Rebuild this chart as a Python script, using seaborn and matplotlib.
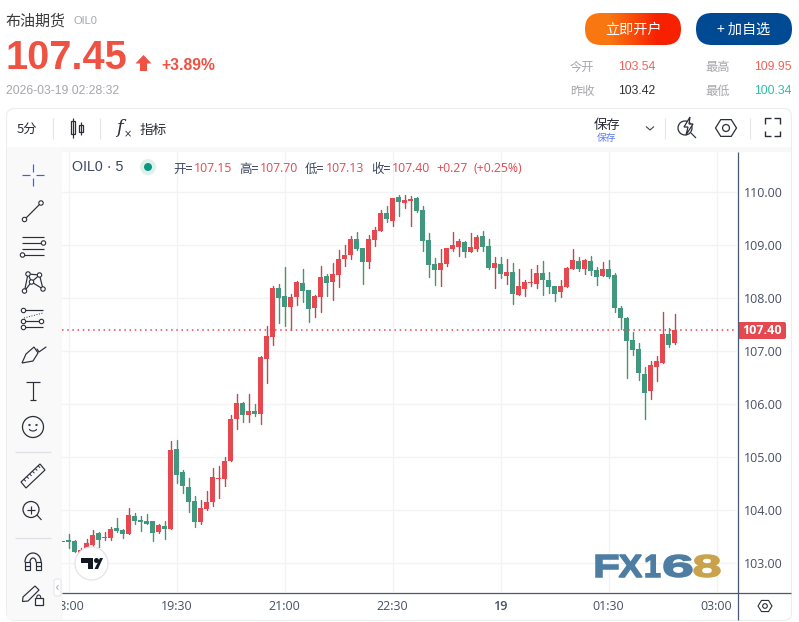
import numpy as np
import pandas as pd
import matplotlib
matplotlib.use('Agg')
import matplotlib.pyplot as plt
import seaborn as sns
from matplotlib.patches import Circle, FancyBboxPatch, PathPatch, Polygon, Rectangle
from matplotlib.textpath import TextPath
from matplotlib.font_manager import FontProperties
from matplotlib.transforms import Affine2D, Bbox

# 5 minute candles, the first one sits just before 18:00
opens = [103.40,103.44,103.42,103.12,103.22,103.34,103.57,103.47,103.47,103.66,103.62,103.55,103.89,103.81,103.79,103.79,103.59,103.70,103.64,105.15,104.72,104.44,104.17,103.78,104.02,104.15,104.59,104.59,104.93,105.72,106.02,105.80,105.87,105.82,106.85,107.27,108.19,108.04,107.84,108.02,108.29,108.16,107.82,108.02,108.42,108.31,108.44,108.74,108.82,109.12,108.95,108.69,109.10,109.27,109.61,109.46,109.91,109.80,109.84,109.89,109.67,109.10,108.65,108.53,108.65,108.93,108.97,109.06,108.87,108.93,109.18,108.99,108.57,108.65,108.42,108.50,108.06,108.18,108.29,108.27,108.48,108.35,108.23,108.12,108.21,108.55,108.70,108.55,108.70,108.53,108.42,108.55,108.44,107.82,107.63,107.21,107.04,106.57,106.25,106.70,106.78,107.33,107.15]
highs = [103.41,103.56,103.44,103.28,103.45,103.62,103.59,103.59,103.68,103.85,103.64,104.04,103.95,103.89,103.93,103.79,103.74,103.79,105.30,105.32,104.76,104.61,104.27,104.19,104.36,104.79,104.83,105.00,105.80,106.19,106.04,106.19,106.00,106.91,107.48,108.23,108.27,108.59,108.08,108.33,108.55,108.16,108.06,108.61,108.46,108.67,108.91,109.01,109.17,109.25,108.95,109.19,109.35,109.67,109.74,109.89,109.95,109.95,109.93,109.91,109.74,109.23,108.76,108.93,108.95,109.25,109.12,109.08,109.23,109.19,109.27,109.12,108.78,108.78,108.74,108.67,108.55,108.35,108.55,108.63,108.70,108.50,108.23,108.35,108.59,108.93,108.78,108.74,108.80,108.59,108.68,108.72,108.48,107.85,107.65,107.36,107.16,106.70,106.82,106.91,107.74,107.44,107.70]
lows = [103.40,103.28,103.21,103.09,103.18,103.32,103.31,103.44,103.44,103.59,103.47,103.55,103.74,103.61,103.74,103.42,103.57,103.45,103.64,104.51,104.32,103.96,103.68,103.74,104.00,104.08,104.23,104.45,104.93,105.53,105.67,105.67,105.78,105.63,106.40,107.12,107.53,107.48,107.40,107.87,107.93,107.55,107.65,107.74,108.04,107.97,108.21,108.61,108.74,108.91,108.27,108.57,108.99,109.27,109.44,109.36,109.55,109.70,109.36,109.63,108.89,108.40,108.25,108.23,108.61,108.89,108.80,108.78,108.87,108.89,108.89,108.55,108.19,108.38,108.27,107.89,108.06,108.04,108.23,108.19,108.06,108.10,107.95,108.02,108.21,108.55,108.52,108.46,108.44,108.25,108.42,108.38,107.74,107.42,106.50,106.93,106.46,105.72,106.10,106.44,106.78,107.08,107.13]
closes = [103.41,103.40,103.21,103.26,103.38,103.53,103.44,103.49,103.64,103.61,103.55,103.91,103.79,103.78,103.74,103.57,103.72,103.64,105.13,104.66,104.45,104.15,103.78,104.04,104.15,104.62,104.61,104.93,105.72,106.02,105.80,105.87,105.82,106.89,107.29,108.19,108.00,107.84,108.02,108.31,108.14,107.80,108.04,108.40,108.29,108.46,108.74,108.82,109.12,108.93,108.69,109.12,109.29,109.61,109.50,109.89,109.82,109.85,109.87,109.65,109.08,108.63,108.53,108.67,108.95,109.00,109.08,108.87,108.97,109.16,108.97,108.57,108.67,108.46,108.50,108.08,108.23,108.31,108.31,108.48,108.35,108.21,108.08,108.23,108.57,108.72,108.55,108.72,108.52,108.40,108.55,108.40,107.82,107.63,107.19,107.02,106.59,106.21,106.74,106.82,107.33,107.12,107.40]

time_ticks = [0, 18, 36, 54, 72, 90, 108]
time_labels = ['18:00', '19:30', '21:00', '22:30', '19', '01:30', '03:00']
price_ticks = [103, 104, 105, 106, 107, 108, 109, 110]
last_price = 107.40

RED = '#E5484F'
GREEN = '#41987F'
WICK_RED = '#BC4A52'
WICK_GREEN = '#4A9468'
AXIS = '#4A5873'
LABEL = '#454F66'
ICON = '#2A2E39'
CJK = ['Noto Sans CJK SC', 'Liberation Sans', 'DejaVu Sans']

sns.set_theme(style='white')
plt.rcParams['font.family'] = CJK

W, H = 799, 622
fig = plt.figure(figsize=(W / 100, H / 100), dpi=100, facecolor='white')

# page furniture sits behind the chart, px coordinates
bg = fig.add_axes([0, 0, 1, 1], zorder=0)
bg.set_xlim(0, W); bg.set_ylim(H, 0); bg.axis('off')
bg.add_patch(FancyBboxPatch((6.5, 108.5), 785, 512, boxstyle='round,pad=0,rounding_size=8',
                            fc='white', ec='#ECEDF0', lw=0.8))
bg.add_patch(Rectangle((7, 147), 784, 5, fc='#F8F8F9', ec='none'))
bg.add_patch(Rectangle((7, 147), 53.5, 473, fc='#F9F9FA', ec='none'))
bg.add_patch(Rectangle((60.5, 147), 2.5, 473, fc='#F8F8F9', ec='none'))

# chart
ax = fig.add_axes([62 / W, 1 - 592 / H, (737 - 62) / W, (592 - 152) / H], zorder=1)
ax.set_facecolor('white')

candles = pd.DataFrame({'n': np.arange(-1, 102), 'open': opens, 'high': highs,
                        'low': lows, 'close': closes})
candles['up'] = candles['close'] >= candles['open']
candles['bottom'] = candles[['open', 'close']].min(axis=1)
candles['body'] = (candles['open'] - candles['close']).abs().clip(lower=0.018)

wicks = candles.melt(id_vars=['n', 'up'], value_vars=['low', 'high'], value_name='price')
sns.lineplot(data=wicks, x='n', y='price', units='n', estimator=None, hue='up',
             palette={True: WICK_RED, False: WICK_GREEN}, lw=1.0, legend=False, ax=ax, zorder=3)

for up, colour in [(True, RED), (False, GREEN)]:
    part = candles[candles['up'] == up]
    sns.barplot(data=part, x='n', y='body', bottom=part['bottom'].values, native_scale=True,
                orient='x', color=colour, saturation=1, width=0.88, errorbar=None,
                linewidth=0, ax=ax, zorder=4)

ax.axhline(last_price, color='#E8434C', lw=1.1, ls=(0, (1, 2.4)), zorder=5)
# 6 px per candle, candle n centred on pixel 68.5 + 6n
ax.set_xlim((62 - 68.5) / 6, (737 - 68.5) / 6)
ax.set_ylim(105 - (592 - 457.3) / 53, 105 + (457.3 - 152) / 53)
ax.set_xlabel(''); ax.set_ylabel('')
ax.set_xticks(time_ticks, time_labels)
ax.set_yticks(price_ticks, [f'{p:.2f}' for p in price_ticks])
ax.yaxis.tick_right()
ax.grid(True, color='#F2F3F4', lw=1.0)
ax.set_axisbelow(True)
ax.tick_params(axis='x', length=0, pad=6, labelsize=9, labelcolor=LABEL)
ax.tick_params(axis='y', length=0, pad=4.7, labelsize=9, labelcolor=LABEL)
for lab in ax.get_xticklabels() + ax.get_yticklabels():
    lab.set_family('Open Sans')
ax.get_xticklabels()[4].set_fontweight('semibold')
# the first time label is cut by the left edge of the pane
ax.get_xticklabels()[0].set_clip_box(Bbox([[62, 0], [W, H]]))
ax.get_xticklabels()[0].set_clip_on(True)
for s in ax.spines.values():
    s.set_visible(False)

# everything else goes on top, px coordinates again
ui = fig.add_axes([0, 0, 1, 1], zorder=2)
ui.set_xlim(0, W); ui.set_ylim(H, 0); ui.axis('off'); ui.patch.set_alpha(0)


def seg(xs, ys, c=ICON, lw=0.85, **kw):
    ui.plot(xs, ys, color=c, lw=lw, solid_capstyle='butt', **kw)


def dot(x, y, r=2.2, ec=ICON, fc='white', lw=0.8):
    ui.add_patch(Circle((x, y), r, fc=fc, ec=ec, lw=lw, zorder=4))


def hexagon(x, y, r, lw=0.9):
    a = np.deg2rad([0, 60, 120, 180, 240, 300])
    ui.add_patch(Polygon(np.c_[x + r * np.cos(a), y + r * 0.92 * np.sin(a)], fc='none', ec=ICON, lw=lw))
    ui.add_patch(Circle((x, y), r * 0.33, fc='none', ec=ICON, lw=lw))


seg([737.5, 737.5], [152, 620], AXIS, 0.9)
seg([62, 791], [592.5, 592.5], AXIS, 0.9)

# header
ui.text(6, 21, '布油期货', fontsize=10.8, color='#3A3A3A', va='center')
ui.text(74, 20.5, 'OIL0', fontsize=8, color='#A2A7B3', va='center', family='Liberation Sans')
ui.text(6, 58, '107.45', fontsize=28.6, color='#EF5143', weight='bold', va='center', family='Liberation Sans')
ui.add_patch(Polygon([(143.5, 55), (151.5, 63.5), (147, 63.5), (147, 71), (140, 71), (140, 63.5), (135.5, 63.5)],
                     fc='#EF5143', ec='none'))
ui.text(161, 65, '+3.89%', fontsize=11.3, color='#EF5143', weight='bold', va='center', family='Liberation Sans')
ui.text(6, 91, '2026-03-19 02:28:32', fontsize=8.7, color='#A6A6AD', va='center', family='Liberation Sans')

# buttons
btn = FancyBboxPatch((585, 13), 96, 32, boxstyle='round,pad=0,rounding_size=16', fc='none', ec='none')
ui.add_patch(btn)
grad = np.array([[[0.98, 0.47, 0.07]], [[0.97, 0.13, 0.0]]]).transpose(1, 0, 2)
im = ui.imshow(grad, extent=(585, 681, 45, 13), aspect='auto', interpolation='bilinear')
im.set_clip_path(btn)
ui.set_xlim(0, W); ui.set_ylim(H, 0)
ui.text(633, 30, '立即开户', fontsize=10.2, color='white', ha='center', va='center')
ui.add_patch(FancyBboxPatch((696, 13), 96, 32, boxstyle='round,pad=0,rounding_size=16', fc='#004A94', ec='none'))
ui.text(744, 30, '+ 加自选', fontsize=10.2, color='white', ha='center', va='center')

# quote block
for x, y, s in [(570, 67, '今开'), (705, 67, '最高'), (570, 91, '昨收'), (705, 91, '最低')]:
    ui.text(x, y, s, fontsize=8.8, color='#A6A6AD', va='center')
for x, y, s, c in [(618.5, 67, '103.54', '#F0625A'), (754.5, 67, '109.95', '#F0625A'),
                   (618.5, 91, '103.42', '#333333'), (754.5, 91, '100.34', '#2DBFA8')]:
    ui.text(x, y, s, fontsize=8.8, color=c, va='center', family='Liberation Sans')

# top toolbar
ui.text(17, 129.5, '5分', fontsize=9.5, color='#2A2E39', va='center')
for x in [52.5, 99.5, 664.5, 749.5]:
    seg([x, x], [118, 139], '#E3E4E8', 0.8)
seg([72.5, 72.5], [118, 138]); ui.add_patch(Rectangle((70.5, 121), 4, 13, fc='white', ec=ICON, lw=0.9))
seg([80.5, 80.5], [122, 135]); ui.add_patch(Rectangle((78.5, 125), 4, 7, fc='white', ec=ICON, lw=0.9))
ui.text(116, 128, 'f', fontsize=13, color=ICON, style='italic', va='center', family='DejaVu Serif')
ui.text(124, 134, '×', fontsize=7, color=ICON, va='center', family='DejaVu Sans')
ui.text(140, 129.5, '指标', fontsize=9.8, color='#2A2E39', va='center')
ui.text(607, 124.5, '保存', fontsize=9.6, color='#2A2E39', ha='center', va='center')
ui.text(607, 138, '保存', fontsize=7, color='#5B7BF0', ha='center', va='center')
seg([646, 650, 654], [126.5, 130, 126.5], '#444444', 0.8)
ui.add_patch(Circle((685, 128), 7, fc='none', ec=ICON, lw=0.9))
ui.add_patch(Polygon([(690, 117), (684, 127), (688, 127), (686, 135), (693, 124), (689, 124)], fc='white', ec=ICON, lw=0.9, zorder=4))
seg([691, 696], [133, 138])
hexagon(726, 128, 10.5)
for xs, ys in [([765, 765, 771], [124, 118, 118]), ([774, 780, 780], [118, 118, 124]),
               ([765, 765, 771], [131, 136, 136]), ([774, 780, 780], [136, 136, 131])]:
    seg(xs, ys, ICON, 1.0)

# legend row of the chart
ui.text(72, 167, 'OIL0 · 5', fontsize=10.3, color='#3D4760', va='center', family='Liberation Sans')
ui.add_patch(Circle((148, 167), 8, fc='#DDF1EC', ec='none'))
ui.add_patch(Circle((148, 167), 4, fc='#089981', ec='none'))
for x, s in [(173, '开='), (239, '高='), (305, '低='), (371, '收=')]:
    ui.text(x, 169, s, fontsize=9, color='#3D4760', va='center')
for x, s in [(194, '107.15'), (260, '107.70'), (326, '107.13'), (392, '107.40'), (436, '+0.27'), (473, '(+0.25%)')]:
    ui.text(x, 168.5, s, fontsize=8.8, color=RED, va='center', family='Open Sans')

# last price tag
ui.add_patch(FancyBboxPatch((738, 322), 48, 17, boxstyle='round,pad=0,rounding_size=2', fc=RED, ec='none'))
ui.text(762, 330.5, f'{last_price:.2f}', fontsize=9, weight='bold', color='white', ha='center', va='center', family='Open Sans')

# left toolbar
seg([22, 30], [175, 175], '#2962FF'); seg([36, 44], [175, 175], '#2962FF')
seg([33, 33], [164, 172], '#2962FF'); seg([33, 33], [178, 186], '#2962FF')
seg([24.5, 41], [219.5, 203]); dot(24.5, 219.5); dot(41, 203)
for y in [237, 243, 249, 255]:
    seg([22, 44], [y, y])
dot(43.5, 243); dot(22.5, 255)
pts = [(24.5, 291), (28, 274), (31.5, 282), (39.5, 275), (43, 289)]
seg([p[0] for p in pts] + [31.5], [p[1] for p in pts] + [282])
seg([24.5, 31.5], [291, 282]); seg([28, 39.5], [274, 275])
for p in pts:
    dot(*p)
seg([24, 43], [310, 310]); seg([24, 43], [327, 327]); seg([24, 43], [321, 321])
seg([24, 43], [318, 313], ICON, 0.7, ls=':')
dot(23.5, 310.5); dot(23.5, 321.5); dot(23.5, 327.5); dot(41.5, 321.5)
ui.add_patch(Polygon([(22, 363), (26, 354), (34, 347), (38, 353), (33, 361)], fc='none', ec=ICON, lw=0.85))
ui.plot([37, 39, 46], [349, 352, 347], color=ICON, lw=0.85)
seg([26, 40], [382, 382]); seg([33, 33], [382, 400]); seg([30, 36], [400, 400])
ui.add_patch(Circle((33, 427), 10.5, fc='none', ec=ICON, lw=0.9))
dot(29.5, 425, 0.8, ICON, ICON, 0.4); dot(36.5, 425, 0.8, ICON, ICON, 0.4)
arc = np.linspace(0.15 * np.pi, 0.85 * np.pi, 15)
ui.plot(33 + 4 * np.cos(arc), 428 + 3 * np.sin(arc), color=ICON, lw=0.8)
seg([15, 51], [451.5, 451.5], '#DEDFE8', 0.9)
ui.add_patch(Polygon([(21, 482), (40, 464), (45, 470), (26, 488)], fc='none', ec=ICON, lw=0.85))
for t in [0.15, 0.3, 0.45, 0.6, 0.75, 0.9]:
    seg([21 + 19 * t, 23 + 19 * t], [482 - 18 * t, 484 - 18 * t], ICON, 0.7)
ui.add_patch(Circle((31, 509.5), 8, fc='none', ec=ICON, lw=0.9))
seg([27, 35], [509.5, 509.5]); seg([31, 31], [505.5, 513.5]); seg([37, 41.5], [515, 520])
seg([15, 51], [537.5, 537.5], '#DEDFE8', 0.9)
t = np.linspace(np.pi, 2 * np.pi, 30)
ui.plot(33 + 8 * np.cos(t), 562 + 9 * np.sin(t), color=ICON, lw=0.9)
ui.plot(33 + 3 * np.cos(t), 562 + 4 * np.sin(t), color=ICON, lw=0.9)
for x0, x1 in [(25, 30), (36, 41)]:
    ui.add_patch(Rectangle((x0, 562), x1 - x0, 8, fc='none', ec=ICON, lw=0.85))
    seg([x0, x1], [566, 566])
ui.add_patch(Polygon([(23, 597), (35, 586), (39, 590), (28, 601), (22.5, 601.5)], fc='none', ec=ICON, lw=0.85))
ui.add_patch(Rectangle((35, 598), 7.5, 6.5, fc='white', ec=ICON, lw=0.9, zorder=4))
ui.plot(38.7 + 2 * np.cos(t), 597.5 + 2.5 * np.sin(t), color=ICON, lw=0.8)

# collapse tab and gear below the price scale
ui.add_patch(FancyBboxPatch((54, 579), 7, 17, boxstyle='round,pad=0,rounding_size=2.5', fc='white', ec='#E3E4EA', lw=0.7))
seg([58.5, 56.5, 58.5], [585, 587.5, 590], '#B5B8C4', 0.8)
hexagon(765, 606, 7, 0.8)

# tradingview badge
ui.add_patch(Circle((91.5, 563.5), 16.5, fc='white', ec='#E3E4EC', lw=0.9))
ui.add_patch(Polygon([(81, 558), (93, 558), (93, 569), (88, 569), (88, 563), (81, 563)], fc='#131722', ec='none'))
ui.add_patch(Circle((96.5, 560.5), 2.5, fc='#131722', ec='none'))
ui.add_patch(Polygon([(94.5, 569), (100, 558), (103, 558), (98, 569)], fc='#131722', ec='none'))


def wide_text(s, x0, x1, y0, y1, colour):
    # watermark letters are stretched to a box, one at a time
    path = TextPath((0, 0), s, size=10, prop=FontProperties(family='Liberation Sans', weight='bold'))
    e = path.get_extents()
    tr = Affine2D().translate(-e.x0, -e.y0).scale((x1 - x0) / e.width, -(y1 - y0) / e.height).translate(x0, y1)
    ui.add_patch(PathPatch(path.transformed(tr), fc=colour, ec=colour, lw=1.1, zorder=6))


wide_text('F', 596, 618, 555, 577, '#4D7DA3')
wide_text('X', 619, 642, 555, 577, '#4D7DA3')
wide_text('1', 646, 660, 555, 577, '#4D7DA3')
wide_text('6', 664, 692, 555, 577, '#4D7DA3')
wide_text('8', 694, 720, 555, 577, '#C9A24B')

fig.savefig('out.png', dpi=100, facecolor='white')
